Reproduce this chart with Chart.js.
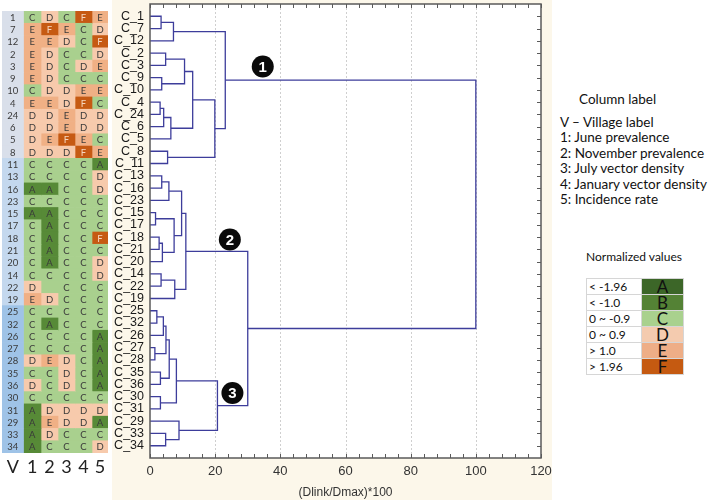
<!DOCTYPE html>
<html><head><meta charset="utf-8">
<script src="https://cdn.jsdelivr.net/npm/chart.js@4.4.1/dist/chart.umd.min.js"></script>
<style>
html,body{margin:0;padding:0;background:#fff;width:716px;height:502px;overflow:hidden;}
body{position:relative;font-family:Lato,"Open Sans",sans-serif;}
#beige{position:absolute;left:112px;top:0;width:440px;height:500px;background:#fcf7ea;}
#heat{position:absolute;left:0;top:0;}
#dendro{position:absolute;left:112px;top:0;}
.leg{position:absolute;left:560px;font-size:13.5px;color:#111;white-space:nowrap;line-height:15px;transform:translateY(-50%);}
#normTitle{position:absolute;left:586px;width:95px;text-align:center;top:256px;transform:translateY(-50%);font-size:12px;color:#111;white-space:nowrap;}
#normTable{position:absolute;left:586px;top:278px;border-collapse:collapse;}
#normTable td{border:1px solid #d6d6d6;height:15px;padding:0;font-size:12px;line-height:15px;}
#normTable td.r{width:41px;text-align:center;font-size:17px;color:#111;}
#normTable td.l{width:52px;padding-left:2px;color:#111;}
</style></head>
<body>
<div id="beige"></div>
<canvas id="heat" width="110" height="502"></canvas>
<canvas id="dendro" width="440" height="502"></canvas>
<div id="legend"></div>
<div id="normTitle">Normalized values</div>
<table id="normTable"></table>
<script>
// ---------- DATA ----------
const villages = ['1','7','12','2','3','9','10','4','24','6','5','8','11','13','16','23','15','17','18','21','20','14','22','19','25','32','26','27','28','35','36','30','31','29','33','34'];
const villageGroup = [1,1,1,1,1,1,1,1,1,1,1,1, 2,2,2,2,2,2,2,2,2,2,2,2, 3,3,3,3,3,3,3,3,3,3,3,3];
const junePrev  = ['C','E','E','E','E','E','C','E','D','D','D','D','C','C','A','C','A','C','C','C','C','C','D','E','C','C','C','C','D','C','D','C','A','A','A','A'];
const novPrev   = ['D','F','E','D','D','D','D','E','D','D','E','D','C','C','A','C','A','A','A','A','A','C','', 'D','C','A','C','C','E','C','C','C','D','E','D','C'];
const julyVec   = ['C','E','D','C','C','C','D','D','E','E','F','D','C','C','C','C','C','C','C','C','C','C','C','C','C','C','C','C','D','D','D','C','D','D','C','C'];
const janVec    = ['F','C','C','C','D','C','E','F','D','D','E','F','C','C','C','C','C','C','C','C','C','C','C','C','C','C','C','C','C','C','C','C','D','D','C','C'];
const incidence = ['E','D','F','D','E','C','E','C','D','D','C','E','A','D','D','C','C','C','F','C','D','D','C','C','C','C','A','A','A','A','A','C','D','A','C','D'];
const columnLabels = ['V','1','2','3','4','5'];

const leafLabels = ['C_1','C_7','C_12','C_2','C_3','C_9','C_10','C_4','C_24','C_6','C_5','C_8','C_11','C_13','C_16','C_23','C_15','C_17','C_18','C_21','C_20','C_14','C_22','C_19','C_25','C_32','C_26','C_27','C_28','C_35','C_36','C_30','C_31','C_29','C_33','C_34'];
// [node id, child a, child b, linkage distance (Dlink/Dmax)*100]
const linkage = [
 ['m1','C_1','C_7',3.4],['m2','m1','C_12',7.2],
 ['m3','C_2','C_3',4.8],['m4','C_9','C_10',3.6],['m5','m3','m4',10.6],
 ['m6','C_4','C_24',3.1],['m7','m6','C_6',4.2],['m8','m7','C_5',6.4],['m9','m5','m8',13.1],
 ['m10','C_8','C_11',5.4],['m11','m9','m10',19.9],['m12','m2','m11',23.1],
 ['m13','C_13','C_16',3.6],['m14','m13','C_23',5.8],['m15','C_15','C_17',1.7],
 ['m16','C_18','C_21',2.8],['m17','m16','C_20',3.8],['m18','m15','m17',7.4],['m19','m14','m18',9.7],
 ['m20','C_14','C_22',3.4],['m21','m20','C_19',7.6],['m22','m19','m21',11.0],
 ['m23','C_25','C_32',2.1],['m24','m23','C_26',4.1],['m25','C_27','C_28',1.5],['m26','m24','m25',4.9],
 ['m27','C_35','C_36',3.2],['m28','m26','m27',5.9],['m29','C_30','C_31',3.2],['m30','m28','m29',8.1],
 ['m31','C_33','C_34',4.8],['m32','C_29','m31',8.9],['m33','m30','m32',20.7],
 ['m34','m22','m33',30.0],['m35','m12','m34',100]
];
const xTicks = [0,20,40,60,80,100,120];
const clusterMarks = [{text:'1', x:34.6, y:4.1},{text:'2', x:24.5, y:18.2},{text:'3', x:25.3, y:30.7}];

const legendLines = ['V \u2013 Village label','1: June prevalence','2: November prevalence','3: July vector density','4: January vector density','5: Incidence rate'];
const normRanges = ['< -1.96','< -1.0','0 ~ -0.9','0 ~ 0.9','> 1.0','> 1.96'];
const normCodes  = ['A','B','C','D','E','F'];

// ---------- STYLES ----------
const cellColors = {A:'#578a37',B:'#548235',C:'#a9d08e',D:'#f7caac',E:'#f0b085',F:'#c65a13','':'#a9d08e'};
const legendColors = {A:'#3c6628',B:'#548235',C:'#a9d18e',D:'#f4cbaf',E:'#eeae87',F:'#c55a11'};
const groupColors = {1:'#d9dfea',2:'#c4d8ee',3:'#9fc3e7'};
const colEdges = [0,21.5,39,56,73,90,106];
const lineColor = '#3d3d9b';

// ---------- LEGEND (HTML text) ----------
const legDiv = document.getElementById('legend');
const cl = document.createElement('div'); cl.className='leg'; cl.style.left='579px'; cl.style.top='99px'; cl.textContent='Column label'; legDiv.appendChild(cl);
const lineY = [122,137,153,168,184,199];
legendLines.forEach((t,i)=>{const d=document.createElement('div');d.className='leg';d.style.top=lineY[i]+'px';d.textContent=t;legDiv.appendChild(d);});
const tbl = document.getElementById('normTable');
normRanges.forEach((r,i)=>{const tr=document.createElement('tr');const a=document.createElement('td');a.className='l';a.textContent=r;const b=document.createElement('td');b.className='r';b.textContent=normCodes[i];b.style.background=legendColors[normCodes[i]];tr.appendChild(a);tr.appendChild(b);tbl.appendChild(tr);});

// ---------- HEATMAP ----------
const columns = [villages, junePrev, novPrev, julyVec, janVec, incidence];
const heatDatasets = columnLabels.map((lab,c)=>({
  label: lab,
  data: villages.map(()=>[colEdges[c], colEdges[c+1]]),
  backgroundColor: villages.map((v,r)=> c===0 ? groupColors[villageGroup[r]] : cellColors[columns[c][r]]),
  borderWidth: 0, barPercentage: 1, categoryPercentage: 1, grouped: false
}));
const cellTextPlugin = {
  id:'cellText',
  afterDatasetsDraw(chart){
    const ctx = chart.ctx; ctx.save();
    ctx.textAlign='center'; ctx.textBaseline='middle';
    chart.data.datasets.forEach((ds,c)=>{
      const meta = chart.getDatasetMeta(c);
      meta.data.forEach((el,r)=>{
        const t = columns[c][r]; if(!t) return;
        ctx.font = '9.5px Lato';
        ctx.fillStyle = (t==='F') ? '#f6d6bf' : '#3a3a3a';
        ctx.fillText(t, (el.x+el.base)/2, el.y+0.5);
      });
    });
    ctx.restore();
  }
};
new Chart(document.getElementById('heat'),{
  type:'bar',
  data:{labels:villages, datasets:heatDatasets},
  options:{
    indexAxis:'y', responsive:false, animation:false,
    layout:{padding:{left:2,right:2,top:11,bottom:0}},
    plugins:{legend:{display:false},tooltip:{enabled:false}},
    scales:{
      x:{type:'linear',min:0,max:colEdges[colEdges.length-1],
         afterBuildTicks:s=>{s.ticks=columnLabels.map((_,i)=>({value:(colEdges[i]+colEdges[i+1])/2}));},
         afterFit:s=>{s.height=49;s.paddingLeft=0;s.paddingRight=0;},
         ticks:{autoSkip:false,maxRotation:0,padding:3,color:'#222',font:{family:'Lato',size:18},callback:(v,i)=>columnLabels[i]},
         grid:{display:false,drawTicks:false},border:{display:false}},
      y:{type:'category',display:false}
    }
  },
  plugins:[cellTextPlugin]
});

// ---------- DENDROGRAM ----------
const pos = {};
leafLabels.forEach((n,i)=>{pos[n]={x:0,y:i};});
const dendroDatasets = [];
linkage.forEach(([id,a,b,h])=>{
  const pa=pos[a], pb=pos[b];
  dendroDatasets.push({
    data:[{x:pa.x,y:pa.y},{x:h,y:pa.y},{x:h,y:pb.y},{x:pb.x,y:pb.y}],
    showLine:true, borderColor:lineColor, borderWidth:1.3, pointRadius:0, tension:0, fill:false
  });
  pos[id]={x:h,y:(pa.y+pb.y)/2};
});
const frameColor = '#5a5a5a';
const framePlugin = {
  id:'frame',
  beforeDatasetsDraw(chart){
    const {ctx, chartArea:a} = chart; ctx.save();
    ctx.fillStyle='#ffffff'; ctx.fillRect(a.left,a.top,a.right-a.left,a.bottom-a.top);
    ctx.restore();
    const xs = chart.scales.x; ctx.save();
    ctx.strokeStyle='#cfcfcf'; ctx.lineWidth=1; ctx.setLineDash([2,2]);
    xTicks.forEach(v=>{ if(v<=0||v>=120) return; const px=Math.round(xs.getPixelForValue(v))+0.5;
      ctx.beginPath(); ctx.moveTo(px,a.top); ctx.lineTo(px,a.bottom); ctx.stroke(); });
    ctx.restore();
  },
  afterDatasetsDraw(chart){
    const {ctx, chartArea:a, scales:{x:xs,y:ys}} = chart;
    ctx.save();
    ctx.strokeStyle=frameColor; ctx.lineWidth=1.5;
    ctx.strokeRect(a.left,a.top,a.right-a.left,a.bottom-a.top);
    ctx.lineWidth=1;
    ctx.beginPath();
    for(let v=0; v<=120; v+=4){
      const px = Math.round(xs.getPixelForValue(v))+0.5;
      ctx.moveTo(px,a.bottom); ctx.lineTo(px,a.bottom-4);
      ctx.moveTo(px,a.top); ctx.lineTo(px,a.top+4);
    }
    leafLabels.forEach((_,i)=>{
      const py = Math.round(ys.getPixelForValue(i))+0.5;
      ctx.moveTo(a.right,py); ctx.lineTo(a.right-4,py);
    });
    ctx.stroke();
    clusterMarks.forEach(m=>{
      const px = xs.getPixelForValue(m.x), py = ys.getPixelForValue(m.y);
      ctx.fillStyle='#0a0a0a'; ctx.beginPath(); ctx.arc(px,py,11,0,Math.PI*2); ctx.fill();
      ctx.fillStyle='#ffffff'; ctx.font='bold 15px "Liberation Sans", Arial'; ctx.textAlign='center'; ctx.textBaseline='middle';
      ctx.fillText(m.text,px,py+1);
    });
    ctx.restore();
  }
};
new Chart(document.getElementById('dendro'),{
  type:'scatter',
  data:{datasets:dendroDatasets},
  options:{
    responsive:false, animation:false,
    layout:{padding:{left:0,right:11,top:4,bottom:0}},
    plugins:{legend:{display:false},tooltip:{enabled:false}},
    scales:{
      x:{type:'linear',min:0,max:120,
         afterBuildTicks:s=>{s.ticks=xTicks.map(v=>({value:v}));},
         afterFit:s=>{s.height=44;s.paddingLeft=0;s.paddingRight=0;},
         ticks:{padding:6,color:'#333',font:{family:'"Liberation Sans", Arial',size:13},maxRotation:0},
         grid:{display:false,drawTicks:false},border:{display:false},
         title:{display:true,text:'(Dlink/Dmax)*100',color:'#333',font:{family:'"Liberation Sans", Arial',size:12},padding:{top:0,bottom:2}}},
      y:{type:'linear',reverse:true,min:-1,max:36,
         afterBuildTicks:s=>{s.ticks=leafLabels.map((_,i)=>({value:i}));},
         afterFit:s=>{s.width=38;s.paddingTop=0;s.paddingBottom=0;},
         ticks:{autoSkip:false,padding:6,color:'#1a1a1a',font:{family:'"Liberation Sans", Arial',size:12.5},callback:v=>leafLabels[v]},
         grid:{display:false,drawTicks:false},border:{display:false}}
    }
  },
  plugins:[framePlugin]
});
</script>
</body></html>
